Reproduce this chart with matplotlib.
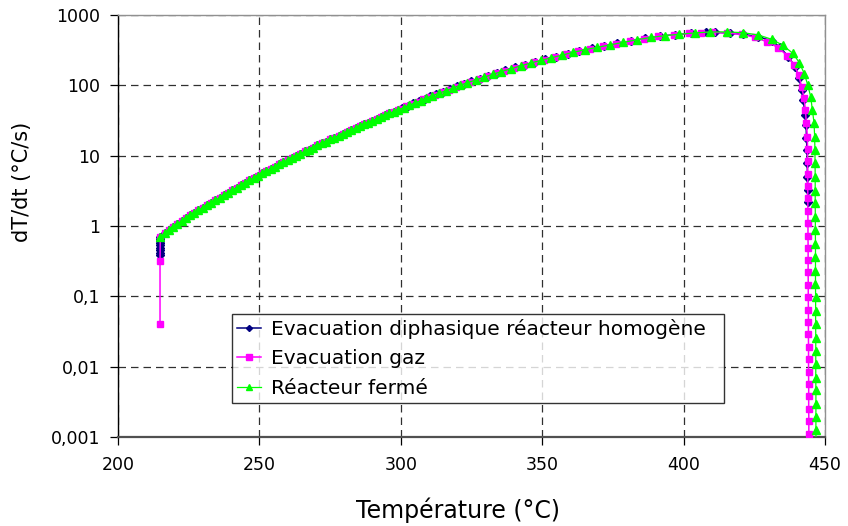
import matplotlib
matplotlib.use("Agg")
import matplotlib.pyplot as plt
from matplotlib.ticker import FixedLocator, FixedFormatter, NullLocator

plt.rcParams['font.family'] = ['DejaVu Sans']

# shared rising part of the curves (the three series overlap there)
t_shared = [215, 216.5, 218, 219.5, 221, 222.5, 224, 225.5, 227, 228.5, 230, 231.5,
            233, 234.5, 236, 237.5, 239, 240.5, 242, 243.5, 245, 246.5, 248, 249.5,
            251, 252.5, 254, 255.5, 257, 258.5, 260, 261.5, 263, 264.5, 266, 267.5,
            269, 270.5, 272, 273.5, 275, 276.5, 278, 279.5, 281, 282.5, 284, 285.5,
            287, 288.5, 290, 291.5, 293, 294.5, 296, 297.5, 299]
rate_shared = [0.708, 0.785, 0.871, 0.966, 1.07, 1.18, 1.30, 1.42, 1.55, 1.68, 1.82, 1.97,
               2.14, 2.32, 2.51, 2.74, 2.99, 3.24, 3.51, 3.80, 4.12, 4.47, 4.84, 5.22,
               5.62, 6.06, 6.53, 7.00, 7.50, 8.08, 8.71, 9.33, 10.0, 10.7, 11.5, 12.2,
               13.0, 14.0, 15.0, 15.9, 17.0, 18.1, 19.3, 20.5, 21.9, 23.2, 24.5, 26.2,
               27.9, 29.5, 31.3, 33.3, 35.5, 37.6, 39.8, 42.2, 44.7]

# Evacuation diphasique reacteur homogene
t_navy_head = [214.9, 214.9, 214.9, 214.9, 214.9, 214.9, 214.9, 214.9]
rate_navy_head = [0.39, 0.42, 0.45, 0.49, 0.53, 0.57, 0.62, 0.66]
t_navy_tail = [300.5, 302.5, 304.5, 306.5, 308.5, 310.5, 312.5, 315, 317.5, 320, 322.5,
               325, 328, 331, 334, 337, 340.5, 344, 347.5, 351, 355, 359, 363, 367.5,
               372, 376.5, 381.5, 386.5, 391.5, 397, 402.5, 408,
               411.1, 416.4, 421.1, 426.4, 431.1, 434.1, 437.0, 439.4, 440.8, 441.7,
               442.3, 442.9, 443.3, 443.4, 443.6, 443.7, 443.75, 443.8, 443.85]
rate_navy_tail = [47.3, 51.1, 55.2, 59.6, 64.3, 69.5, 74.6, 81.3, 88.7, 96.6, 105,
                  114, 125, 137, 150, 163, 180, 197, 216, 234, 257, 282, 308, 336,
                  362, 394, 429, 466, 499, 526, 550, 568,
                  568, 553, 531, 490, 431, 347, 256, 184, 126, 86,
                  62, 38, 27, 18, 12, 7.8, 5.0, 3.3, 2.2]

# Evacuation gaz
t_gaz_head = [214.9, 214.9]
rate_gaz_head = [0.041, 0.32]
t_gaz_tail = [300, 302, 304, 306, 308, 310, 312, 314.5, 317, 319.5, 322, 324.5, 327.5,
              330.5, 333.5, 336.5, 340, 343.5, 347, 350.5, 354.5, 358.5, 362.5, 367,
              371.5, 376, 381, 386, 391, 396.5, 402, 406,
              409.9, 415.2, 420.5, 425.2, 429.4, 433.5, 436.7, 439.0, 440.7, 441.7,
              442.6, 443.0, 443.4, 443.7,
              443.8, 443.8, 443.85, 443.85, 443.9, 443.9, 443.95, 443.95, 444.0, 444.0,
              444.0, 444.05, 444.05, 444.1, 444.1, 444.1, 444.15, 444.15, 444.15, 444.2,
              444.2, 444.2, 444.25, 444.25, 444.25]
rate_gaz_tail = [46.5, 50.1, 54.1, 58.5, 63.1, 68.1, 73.3, 79.8, 87.1, 95.1, 104, 112, 123,
                 135, 148, 161, 177, 195, 214, 232, 254, 279, 305, 333,
                 358, 391, 425, 462, 495, 524, 548, 562,
                 568, 553, 531, 482, 417, 343, 261, 195, 140, 94,
                 66, 45, 29, 18.6,
                 12.5, 8.3, 5.5, 3.7, 2.5, 1.65, 1.1, 0.73, 0.49, 0.33,
                 0.22, 0.145, 0.097, 0.065, 0.043, 0.029, 0.019, 0.013, 0.0085, 0.0057,
                 0.0038, 0.0025, 0.0017, 0.0011, 0.00075]

# Reacteur ferme
t_ferme_tail = [301, 303, 305, 307, 309, 311, 313.5, 316, 318.5, 321, 323.5, 326.5, 329.5,
                332.5, 335.5, 339, 342.5, 346, 349.5, 353, 357, 361, 365, 369.5, 374,
                378.5, 383.5, 388.5, 393.5, 398.5, 404,
                409.3, 415.2, 421.1, 426.4, 431.1, 435.0, 438.6, 440.9, 442.7, 443.9,
                444.9, 445.5, 446.1, 446.3, 446.4,
                446.45, 446.5, 446.5, 446.5, 446.55, 446.55, 446.6, 446.6, 446.6, 446.6,
                446.65, 446.65, 446.65, 446.7, 446.7, 446.7, 446.7, 446.75, 446.75,
                446.75, 446.75, 446.8]
rate_ferme_tail = [48.2, 52.1, 56.2, 60.7, 65.6, 70.8, 77.2, 84.1, 91.8, 100, 109, 119, 131,
                   143, 157, 172, 190, 208, 226, 245, 269, 295, 320, 347, 376,
                   407, 445, 481, 509, 533, 556,
                   573, 575, 560, 520, 452, 372, 285, 210, 145, 100,
                   69, 45, 29, 18.6, 12,
                   7.8, 5.0, 3.2, 2.1, 1.35, 0.87, 0.56, 0.36, 0.23, 0.15,
                   0.097, 0.063, 0.04, 0.026, 0.017, 0.011, 0.007, 0.0046, 0.003,
                   0.0019, 0.00125, 0.0008]

labels = ["Evacuation diphasique réacteur homogène", "Evacuation gaz", "Réacteur fermé"]
y_ticks = [0.001, 0.01, 0.1, 1, 10, 100, 1000]
y_tick_labels = ["0,001", "0,01", "0,1", "1", "10", "100", "1000"]
x_ticks = [200, 250, 300, 350, 400, 450]

fig = plt.figure(figsize=(8.48, 5.26), dpi=100)
ax = fig.add_axes([0.139, 0.169, 0.834, 0.8025])

ax.plot(t_navy_head + t_shared + t_navy_tail, rate_navy_head + rate_shared + rate_navy_tail,
        color="#000080", lw=1.1, marker="D", ms=3.6, label=labels[0], zorder=3)
ax.plot(t_gaz_head + t_shared + t_gaz_tail, rate_gaz_head + rate_shared + rate_gaz_tail,
        color="#FF00FF", lw=1.1, marker="s", ms=5.0, label=labels[1], zorder=4)
ax.plot(t_shared + t_ferme_tail, rate_shared + rate_ferme_tail,
        color="#00FF00", lw=0.9, marker="^", ms=5.5, label=labels[2], zorder=5)

ax.set_yscale("log")
ax.set_xlim(200, 450)
ax.set_ylim(0.001, 1000)
ax.yaxis.set_major_locator(FixedLocator(y_ticks))
ax.yaxis.set_major_formatter(FixedFormatter(y_tick_labels))
ax.yaxis.set_minor_locator(NullLocator())
ax.set_xticks(x_ticks)

ax.grid(True, which="major", color="#303030", lw=0.9, ls=(0, (6, 4)))
ax.set_axisbelow(True)

for side in ["top", "right"]:
    ax.spines[side].set_color("#909090")
    ax.spines[side].set_linewidth(1.0)
ax.spines["left"].set_color("black")
ax.spines["left"].set_linewidth(1.0)
ax.spines["bottom"].set_color("#505050")
ax.spines["bottom"].set_linewidth(1.6)

ax.tick_params(axis="both", labelsize=12.5, length=5.8, width=0.9, direction="out", colors="black")
ax.tick_params(axis="x", pad=8)
ax.tick_params(axis="y", pad=7)

ax.set_xlabel("Température (°C)", fontsize=17)
ax.set_ylabel("dT/dt (°C/s)", fontsize=15)
ax.xaxis.set_label_coords(0.481, -0.142)
ax.yaxis.set_label_coords(-0.122, 0.604)

leg = ax.legend(loc="lower left", bbox_to_anchor=(0.161, 0.081, 0.696, 0.208), mode="expand",
                fontsize=14.5, frameon=True, fancybox=False, edgecolor="black",
                handlelength=1.2, handletextpad=0.5, borderpad=0.25, labelspacing=0.52,
                borderaxespad=0, markerscale=0.85)
leg.get_frame().set_linewidth(1.0)
leg.set_zorder(10)

fig.savefig("out.png", dpi=100)
